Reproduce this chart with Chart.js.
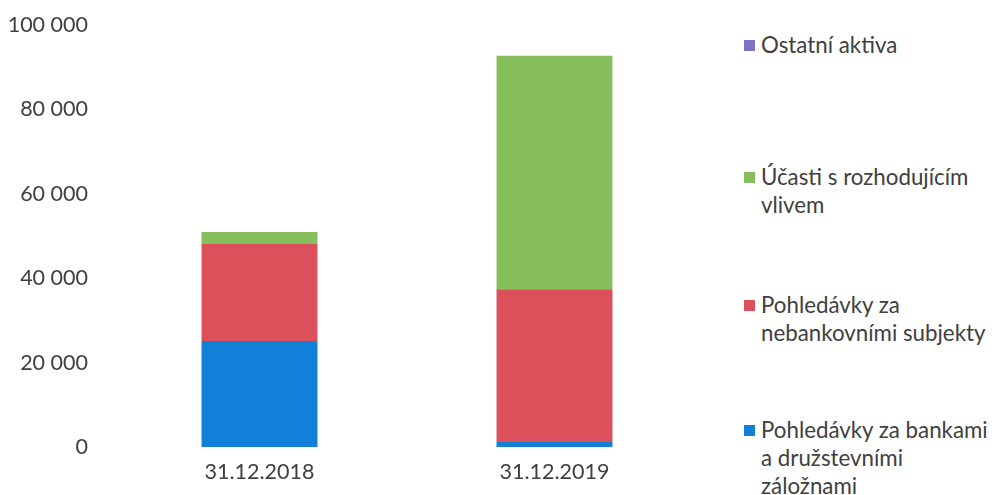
<!DOCTYPE html>
<html>
<head>
<meta charset="utf-8">
<script src="https://cdn.jsdelivr.net/npm/chart.js@4.4.0/dist/chart.umd.min.js"></script>
<style>
    html, body { margin: 0; padding: 0; background: #fff; }
    #wrap { position: relative; width: 994px; height: 495px; overflow: hidden; }
    #box { position: absolute; left: 0; top: 0; width: 712px; height: 495px; }
    #legend { position: absolute; left: 744px; top: 0; width: 250px; font-family: Lato, sans-serif; font-size: 22.3px; color: #404040; }
    .item { position: absolute; left: 0; display: flex; align-items: flex-start; line-height: 28px; white-space: nowrap; }
    .sw { width: 11px; height: 11px; margin-top: 9px; margin-right: 6px; flex: none; }
</style>
</head>
<body>
<div id="wrap">
    <div id="box"><canvas id="canvas1"></canvas></div>
    <div id="legend"></div>
</div>
<script>
document.addEventListener('DOMContentLoaded', function () {

    let labels = ['31.12.2018', '31.12.2019'];

    let banky = [25100, 1200];
    let nebankovni = [23000, 36200];
    let ucasti = [2850, 55300];
    let ostatni = [0, 0];

    let yTicks = [0, 20000, 40000, 60000, 80000, 100000];

    let datasets = [
        {
            label: 'Pohledávky za bankami a družstevními záložnami',
            lines: ['Pohledávky za bankami', 'a družstevními', 'záložnami'],
            data: banky,
            backgroundColor: 'rgb(18,128,216)'
        },
        {
            label: 'Pohledávky za nebankovními subjekty',
            lines: ['Pohledávky za', 'nebankovními subjekty'],
            data: nebankovni,
            backgroundColor: 'rgb(220,80,92)'
        },
        {
            label: 'Účasti s rozhodujícím vlivem',
            lines: ['Účasti s rozhodujícím', 'vlivem'],
            data: ucasti,
            backgroundColor: 'rgb(134,190,92)'
        },
        {
            label: 'Ostatní aktiva',
            lines: ['Ostatní aktiva'],
            data: ostatni,
            backgroundColor: 'rgb(128,112,200)'
        }
    ];

    let font = { family: 'Lato', size: 21.5 };

    let config = {
        type: 'bar',
        data: { labels: labels, datasets: datasets },
        options: {
            responsive: true,
            maintainAspectRatio: false,
            animation: false,
            layout: { padding: { top: 25, right: 10 } },
            datasets: {
                bar: { barPercentage: 1, categoryPercentage: 0.393 }
            },
            plugins: {
                legend: { display: false },
                tooltip: { enabled: false }
            },
            scales: {
                x: {
                    stacked: true,
                    grid: { display: false },
                    border: { display: false },
                    ticks: { color: '#404040', font: font, padding: 4, maxRotation: 0 },
                    afterFit: function (scale) { scale.height = 48; }
                },
                y: {
                    stacked: true,
                    min: 0,
                    max: 100000,
                    grid: { display: false },
                    border: { display: false },
                    afterBuildTicks: function (scale) {
                        scale.ticks = yTicks.map(v => ({ value: v }));
                    },
                    ticks: {
                        color: '#404040',
                        font: font,
                        padding: 16,
                        callback: function (v) {
                            return String(v).replace(/\B(?=(\d{3})+(?!\d))/g, ' ');
                        }
                    },
                    afterFit: function (scale) {
                        scale.width = 112;
                        scale.paddingTop = 0;
                        scale.paddingBottom = 0;
                    }
                }
            }
        }
    };

    let myChart = new Chart(document.getElementById('canvas1'), config);

    // legend on the right, reversed order, multi-line labels
    let tops = [416, 291, 163, 31];
    let legend = document.getElementById('legend');
    datasets.forEach((ds, i) => {
        let item = document.createElement('div');
        item.className = 'item';
        item.style.top = tops[i] + 'px';
        let sw = document.createElement('span');
        sw.className = 'sw';
        sw.style.background = ds.backgroundColor;
        let txt = document.createElement('span');
        txt.innerHTML = ds.lines.join('<br>');
        item.appendChild(sw);
        item.appendChild(txt);
        legend.appendChild(item);
    });

});
</script>
</body>
</html>
